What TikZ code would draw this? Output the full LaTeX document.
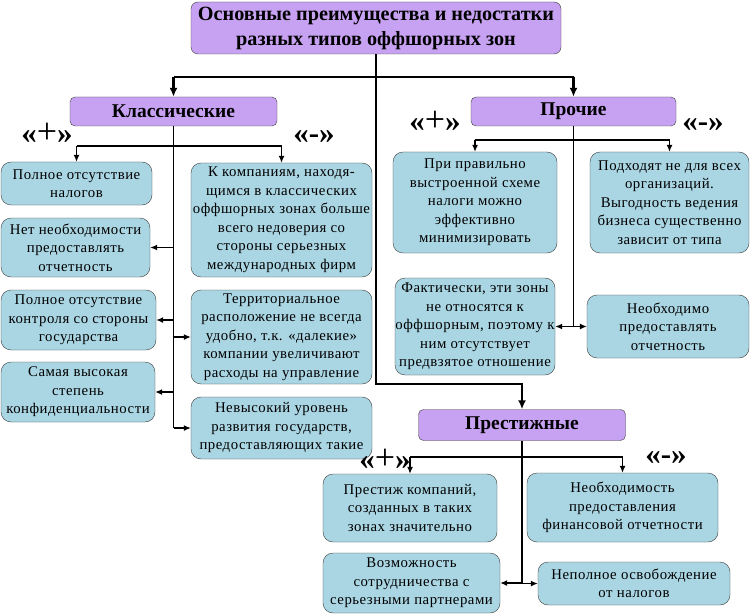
\documentclass[tikz,border=0pt]{standalone}
\usepackage{fontspec}
\setmainfont{Liberation Serif}
\newfontfamily\boxfont{Liberation Serif}[LetterSpace=3.5]
\usetikzlibrary{arrows.meta}
\definecolor{lilac}{RGB}{200,162,242}
\definecolor{paleblue}{RGB}{170,214,228}
\definecolor{edgegray}{RGB}{60,60,60}
\newcommand{\bigplus}{{\fontsize{36}{36}\selectfont\mdseries+}}

\begin{document}
\begin{tikzpicture}[x=1pt, y=-1pt,
  topbox/.style={draw=edgegray, fill=lilac, rounded corners=7pt, align=center, inner sep=0pt,
    font=\fontsize{20.2}{25}\selectfont\bfseries},
  zonebox/.style={draw=edgegray, fill=lilac, rounded corners=5pt, align=center, inner sep=0pt,
    font=\fontsize{19.5}{22}\selectfont\bfseries},
  itembox/.style={draw=edgegray, fill=paleblue, rounded corners=10pt, align=center, inner sep=0pt,
    font=\boxfont\fontsize{14.8}{18.5}\selectfont},
  boxsize/.style 2 args={minimum width=#1, minimum height=#2},
  sign/.style={font=\fontsize{31}{31}\selectfont\bfseries, inner sep=0pt, text height=14pt, text depth=0pt},
  wire/.style={line width=1.2pt},
  link/.style={line width=1.2pt, -{Latex[length=7pt,width=6pt]}},
  trunk/.style={line width=2.8pt},
  trunkarrow/.style={line width=2.8pt, -{Latex[length=9pt,width=8pt]}}]
\useasboundingbox[fill=white] (0,0) rectangle (750,615);

% main title and zone types
\node[topbox, boxsize={370pt}{52pt}] (title) at (376,28)
  {Основные преимущества и недостатки\\разных типов оффшорных зон};
\node[zonebox, boxsize={207pt}{29pt}] (klass) at (173.5,111.5) {Классические};
\node[zonebox, boxsize={205pt}{29pt}] (proch) at (573.5,111.5) {Прочие};
\node[zonebox, boxsize={207pt}{31pt}] (prest) at (522,425) {Престижные};

% classic zones
\node[sign] (kplus) at (47,137) {«\bigplus»};
\node[sign] (kminus) at (314,137) {«-»};
\node[itembox, boxsize={151pt}{43pt}] (k1) at (76.5,183.5) {Полное отсутствие\\налогов};
\node[itembox, boxsize={149pt}{59pt}] (k2) at (75.5,247.5) {Нет необходимости\\предоставлять\\отчетность};
\node[itembox, boxsize={155pt}{60pt}] (k3) at (78.5,320) {Полное отсутствие\\контроля со стороны\\государства};
\node[itembox, boxsize={154pt}{60pt}] (k4) at (78,392) {Самая высокая\\степень\\конфиденциальности};
\node[itembox, boxsize={181pt}{114pt}] (kr1) at (281.5,220)
  {К компаниям, находя-\\щимся в классических\\оффшорных зонах больше\\всего недоверия со\\стороны серьезных\\международных фирм};
\node[itembox, boxsize={181pt}{94pt}] (kr2) at (281.5,337)
  {Территориальное\\расположение не всегда\\удобно, т.к. «далекие»\\компании увеличивают\\расходы на управление};
\node[itembox, boxsize={181pt}{62pt}] (kr3) at (281.5,428)
  {Невысокий уровень\\развития государств,\\предоставляющих такие};

% other zones
\node[sign] (pplus) at (435,125) {«\bigplus»};
\node[sign] (pminus) at (703,125) {«-»};
\node[itembox, boxsize={164pt}{101pt}] (p1) at (475,202.5)
  {При правильно\\выстроенной схеме\\налоги можно\\эффективно\\минимизировать};
\node[itembox, boxsize={159pt}{101pt}] (p2) at (669.5,202.5)
  {Подходят не для всех\\организаций.\\Выгодность ведения\\бизнеса существенно\\зависит от типа};
\node[itembox, boxsize={160pt}{97pt}] (p3) at (475,326.5)
  {Фактически, эти зоны\\не относятся к\\оффшорным, поэтому к\\ним отсутствует\\предвзятое отношение};
\node[itembox, boxsize={162pt}{63pt}] (p4) at (668,326.5) {Необходимо\\предоставлять\\отчетность};

% prestige zones
\node[sign] (cplus) at (385,462) {«\bigplus»};
\node[sign] (cminus) at (666,457) {«-»};
\node[itembox, boxsize={174pt}{68pt}] (c1) at (410,508) {Престиж компаний,\\созданных в таких\\зонах значительно};
\node[itembox, boxsize={191pt}{69pt}] (c2) at (622.5,507.5) {Необходимость\\предоставления\\финансовой отчетности};
\node[itembox, boxsize={177pt}{60pt}] (c3) at (411.5,583) {Возможность\\сотрудничества с\\серьезными партнерами};
\node[itembox, boxsize={192pt}{43pt}] (c4) at (634,583.5) {Неполное освобождение\\от налогов};

% thick trunk
\coordinate (tbus) at (0,77);
\coordinate (tturn) at (0,384);
\draw[trunk] (klass.north |- tbus) -- (proch.north |- tbus);
\draw[trunkarrow] (klass.north |- tbus) -- (klass.north);
\draw[trunkarrow] (proch.north |- tbus) -- (proch.north);
\draw[trunkarrow] (title.south) -- (title.south |- tturn) -| (prest.north);

% classic links
\coordinate (kbus) at (0,146);
\draw[wire] (klass.south) -- (klass.south |- kr3);
\draw[wire] (kbus -| k1) -- (kbus -| kr1);
\draw[link] (kbus -| k1) -- (k1);
\draw[link] (kbus -| kr1) -- (kr1);
\foreach \b in {k2,k3,k4,kr2,kr3}
  \draw[link] (klass.south |- \b) -- (\b);

% other links
\coordinate (pbus) at (0,140);
\draw[wire] (proch.south) -- (proch.south |- p3);
\draw[wire] (pbus -| p1) -- (pbus -| p2);
\draw[link] (pbus -| p1) -- (p1);
\draw[link] (pbus -| p2) -- (p2);
\foreach \b in {p3,p4}
  \draw[link] (proch.south |- \b) -- (\b);

% prestige links
\coordinate (cbus) at (0,457);
\draw[wire] (prest.south) -- (prest.south |- c3);
\draw[wire] (cbus -| c1) -- (cbus -| c2);
\draw[link] (cbus -| c1) -- (c1);
\draw[link] (cbus -| c2) -- (c2);
\foreach \b in {c3,c4}
  \draw[link] (prest.south |- \b) -- (\b);
\end{tikzpicture}
\end{document}
